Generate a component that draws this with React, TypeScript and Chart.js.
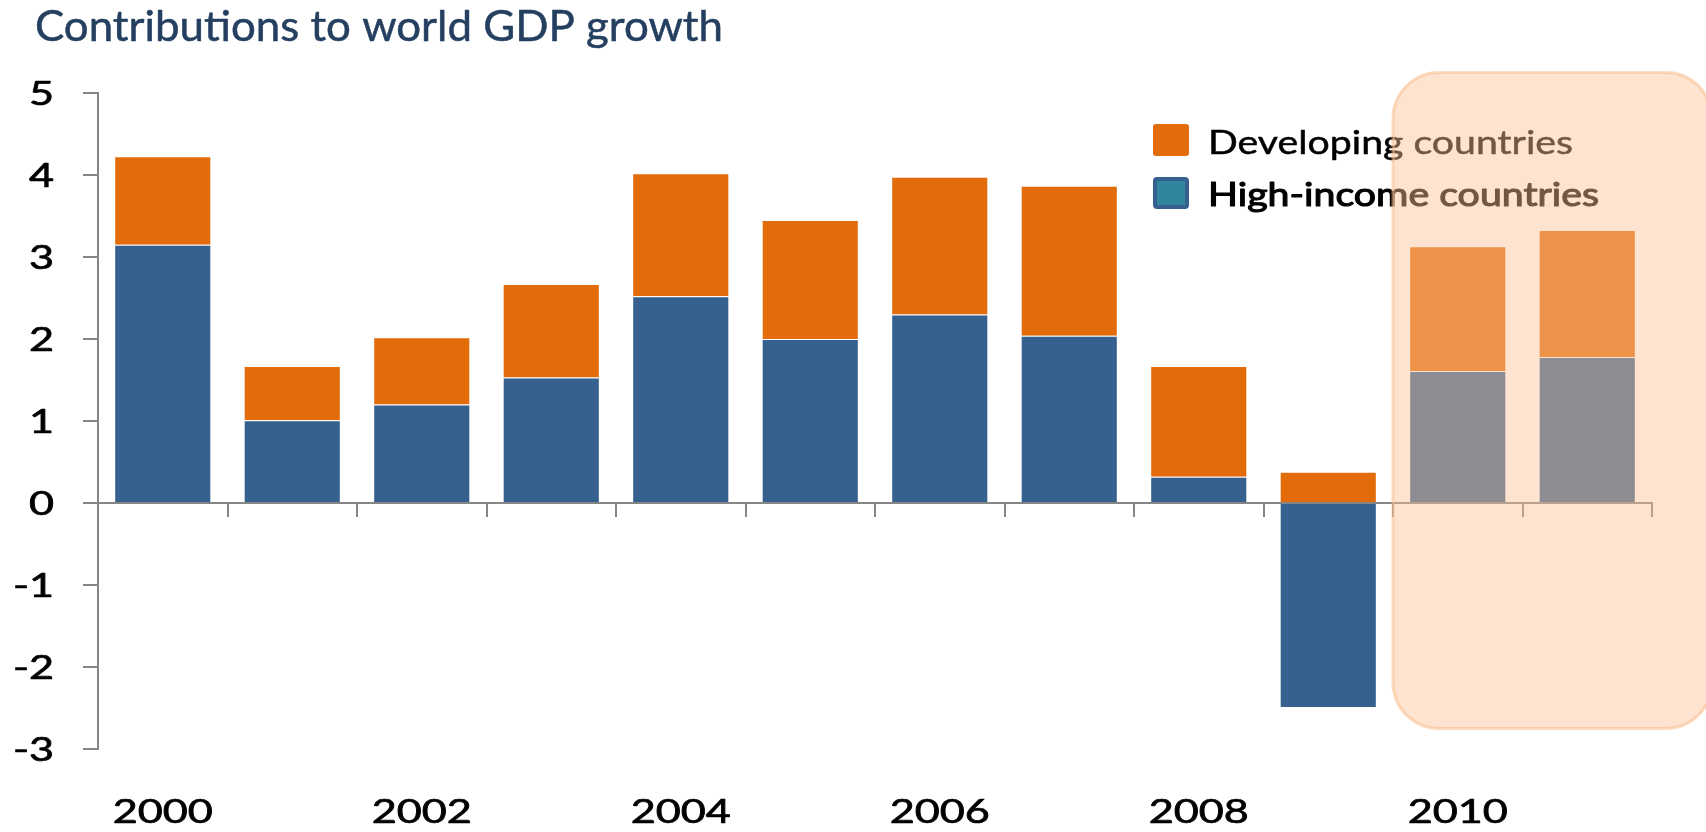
import React, { useEffect, useRef } from 'react';
import { Chart, registerables } from 'chart.js';

Chart.register(...registerables);

const titleText = 'Contributions to world GDP growth';
const categories = ['2000', '2001', '2002', '2003', '2004', '2005', '2006', '2007', '2008', '2009', '2010', '2011'];
const xTickLabels = ['2000', '', '2002', '', '2004', '', '2006', '', '2008', '', '2010', ''];
const seriesNames = ['Developing countries', 'High-income countries'];
const highIncome = [3.15, 1.01, 1.2, 1.53, 2.52, 2.0, 2.3, 2.04, 0.32, -2.5, 1.61, 1.78];
const developing = [1.08, 0.66, 0.82, 1.14, 1.5, 1.45, 1.68, 1.83, 1.35, 0.38, 1.52, 1.55];
const yMin = -3;
const yMax = 5;
const highlightStart = 9.5; // boundary before 2010 (forecast years)

const FONT = 'Lato, "Open Sans", sans-serif';
const BLUE = '#36618F';
const ORANGE = '#E36C0A';
const TEAL = '#31859C';
const AXIS = '#868686';

function stretchText(
  ctx: CanvasRenderingContext2D,
  text: string,
  x: number,
  y: number,
  align: CanvasTextAlign,
  sx: number,
  bold = 0
) {
  ctx.save();
  ctx.translate(x, y);
  ctx.scale(sx, 1);
  ctx.textAlign = align;
  ctx.textBaseline = 'alphabetic';
  ctx.fillText(text, 0, 0);
  if (bold > 0) {
    ctx.lineWidth = bold;
    ctx.strokeStyle = ctx.fillStyle as string;
    ctx.lineJoin = 'round';
    ctx.strokeText(text, 0, 0);
  }
  ctx.restore();
}

function fitText(ctx: CanvasRenderingContext2D, text: string, x: number, y: number, width: number, bold = 0) {
  const w = ctx.measureText(text).width;
  stretchText(ctx, text, x, y, 'left', width / w, bold);
}

const customPlugin = {
  id: 'customDecor',
  afterDraw(chart: any) {
    const ctx: CanvasRenderingContext2D = chart.ctx;
    const xs = chart.scales.x;
    const ys = chart.scales.y;
    ctx.save();

    // Title
    ctx.fillStyle = '#243F60';
    ctx.font = `42px ${FONT}`;
    fitText(ctx, titleText, 35, 41, 688, 0.5);

    // Y tick labels
    ctx.fillStyle = '#000000';
    ctx.font = `32px ${FONT}`;
    ys.ticks.forEach((t: any, i: number) => {
      const py = ys.getPixelForTick(i);
      stretchText(ctx, String(t.value), 54, py + 11.5, 'right', 1.35, 0.7);
    });

    // X tick labels (bottom)
    xTickLabels.forEach((lab, i) => {
      if (!lab) return;
      const px = xs.getPixelForTick(i);
      stretchText(ctx, lab, px, 823, 'center', 1.35, 0.7);
    });

    // Legend
    ctx.fillStyle = ORANGE;
    ctx.beginPath();
    ctx.roundRect(1153, 124, 36, 32, 3);
    ctx.fill();
    ctx.fillStyle = TEAL;
    ctx.strokeStyle = BLUE;
    ctx.lineWidth = 4;
    ctx.beginPath();
    ctx.roundRect(1155, 179, 32, 28, 2);
    ctx.fill();
    ctx.stroke();
    ctx.fillStyle = '#000000';
    ctx.font = `33px ${FONT}`;
    fitText(ctx, seriesNames[0], 1208, 154, 365, 0.5);
    fitText(ctx, seriesNames[1], 1208, 206, 391, 1.1);

    // Highlight box over forecast years
    const left = xs.getPixelForValue(highlightStart);
    const top = ys.getPixelForValue(5.25);
    const bottom = ys.getPixelForValue(-2.75);
    const right = chart.width + 6;
    ctx.beginPath();
    ctx.roundRect(left, top, right - left, bottom - top, 46);
    ctx.fillStyle = 'rgba(251,192,150,0.45)';
    ctx.fill();
    ctx.lineWidth = 3;
    ctx.strokeStyle = 'rgba(249,190,140,0.55)';
    ctx.stroke();

    ctx.restore();
  },
};

export default function App() {
  const canvasRef = useRef<HTMLCanvasElement | null>(null);

  useEffect(() => {
    if (!canvasRef.current) return;
    const chart = new Chart(canvasRef.current, {
      type: 'bar',
      data: {
        labels: categories,
        datasets: [
          {
            label: seriesNames[1],
            data: highIncome,
            backgroundColor: BLUE,
            borderColor: 'rgba(255,255,255,0.3)',
            borderWidth: 1,
          },
          {
            label: seriesNames[0],
            data: developing,
            backgroundColor: ORANGE,
            borderColor: 'rgba(255,255,255,0.3)',
            borderWidth: 1,
          },
        ],
      },
      options: {
        animation: false,
        responsive: true,
        maintainAspectRatio: false,
        layout: { padding: { top: 93, bottom: 83, left: 0, right: 54 } },
        datasets: { bar: { barPercentage: 0.75, categoryPercentage: 1 } },
        plugins: {
          legend: { display: false },
          title: { display: false },
          tooltip: { enabled: false },
        },
        scales: {
          x: {
            type: 'category',
            stacked: true,
            position: { y: 0 } as any,
            offset: true,
            grid: {
              offset: true,
              drawOnChartArea: false,
              drawTicks: true,
              tickLength: 13,
              color: AXIS,
              lineWidth: 2,
            },
            border: { display: true, color: AXIS, width: 2 },
            ticks: { display: false, autoSkip: false },
          },
          y: {
            stacked: true,
            min: yMin,
            max: yMax,
            ticks: { display: false, stepSize: 1 },
            grid: {
              drawOnChartArea: false,
              drawTicks: true,
              tickLength: 15,
              color: AXIS,
              lineWidth: 2,
            },
            border: { display: true, color: AXIS, width: 2 },
            afterFit: (s: any) => {
              s.width = 98;
            },
          },
        },
      },
      plugins: [customPlugin],
    });
    return () => chart.destroy();
  }, []);

  return (
    <div style={{ position: 'absolute', left: 0, top: 0, width: 1706, height: 832 }}>
      <canvas ref={canvasRef} />
    </div>
  );
}
